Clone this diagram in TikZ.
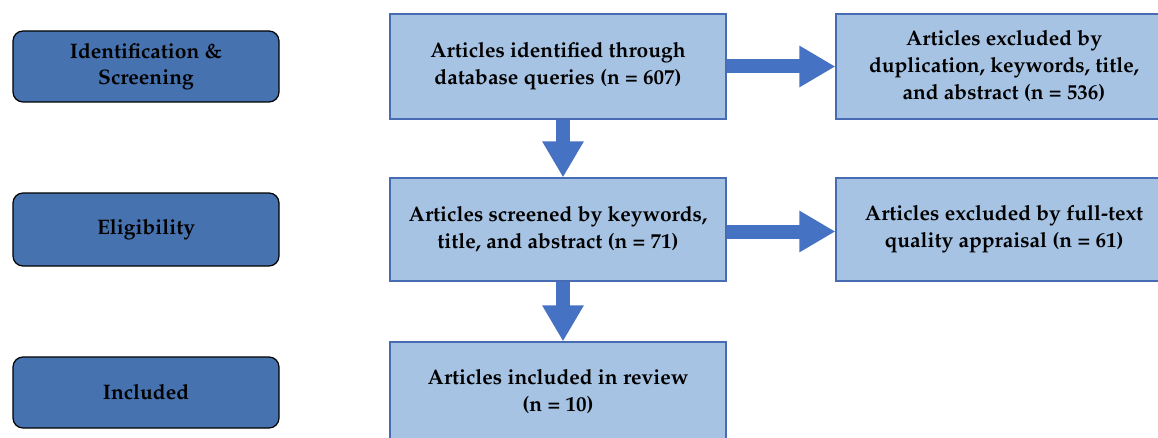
\documentclass[tikz,border=0pt]{standalone}
\usepackage[T1]{fontenc}
\usepackage{mathpazo}
\usetikzlibrary{arrows.meta}
\definecolor{stagefill}{RGB}{70,115,176}
\definecolor{boxfill}{RGB}{166,195,228}
\definecolor{boxline}{RGB}{72,108,180}
\definecolor{arrowblue}{RGB}{70,114,196}
\begin{document}
\begin{tikzpicture}[x=1pt,y=1pt,
  stage/.style={draw=black,line width=1.2pt,fill=stagefill,rounded corners=10pt,
    minimum width=266pt,align=center,font=\fontsize{21}{26}\selectfont\bfseries},
  stepbox/.style={draw=boxline,line width=1.2pt,fill=boxfill,minimum width=336pt,
    align=center,font=\fontsize{21}{27}\selectfont\bfseries},
  blockarrow/.style={draw=arrowblue,line width=14pt,-{Triangle[width=39pt,length=36pt]}}]
  \useasboundingbox (0,0) rectangle (1158,437);
  \clip (0,0) rectangle (1158,437);
  % stages on the left
  \node[stage,minimum height=71pt] (ident) at (146,370.5) {Identification \&\\Screening};
  \node[stage,minimum height=73pt] (elig) at (146,207.5) {Eligibility};
  \node[stage,minimum height=71pt] (incl) at (146,44.5) {Included};
  % main column
  \node[stepbox,minimum height=105pt] (found) at (558,370.5) {Articles identified through\\database queries (n = 607)};
  \node[stepbox,minimum height=103pt] (screened) at (558,207.5) {Articles screened by keywords,\\title, and abstract (n = 71)};
  \node[stepbox,minimum height=100pt] (review) at (558,45) {Articles included in review\\(n = 10)};
  % excluded column
  \node[stepbox,minimum height=105pt] (dropA) at (1004,370.5) {Articles excluded by\\duplication, keywords, title,\\and abstract (n = 536)};
  \node[stepbox,minimum height=103pt] (dropB) at (1004,207.5) {Articles excluded by full-text\\quality appraisal (n = 61)};
  \draw[blockarrow] ([xshift=5pt]found.south) -- ([xshift=5pt]screened.north);
  \draw[blockarrow] ([xshift=5pt]screened.south) -- ([xshift=5pt]review.north);
  \draw[blockarrow] (found.east) -- (dropA.west);
  \draw[blockarrow] ([yshift=-2pt]screened.east) -- ([yshift=-2pt]dropB.west);
\end{tikzpicture}
\end{document}
